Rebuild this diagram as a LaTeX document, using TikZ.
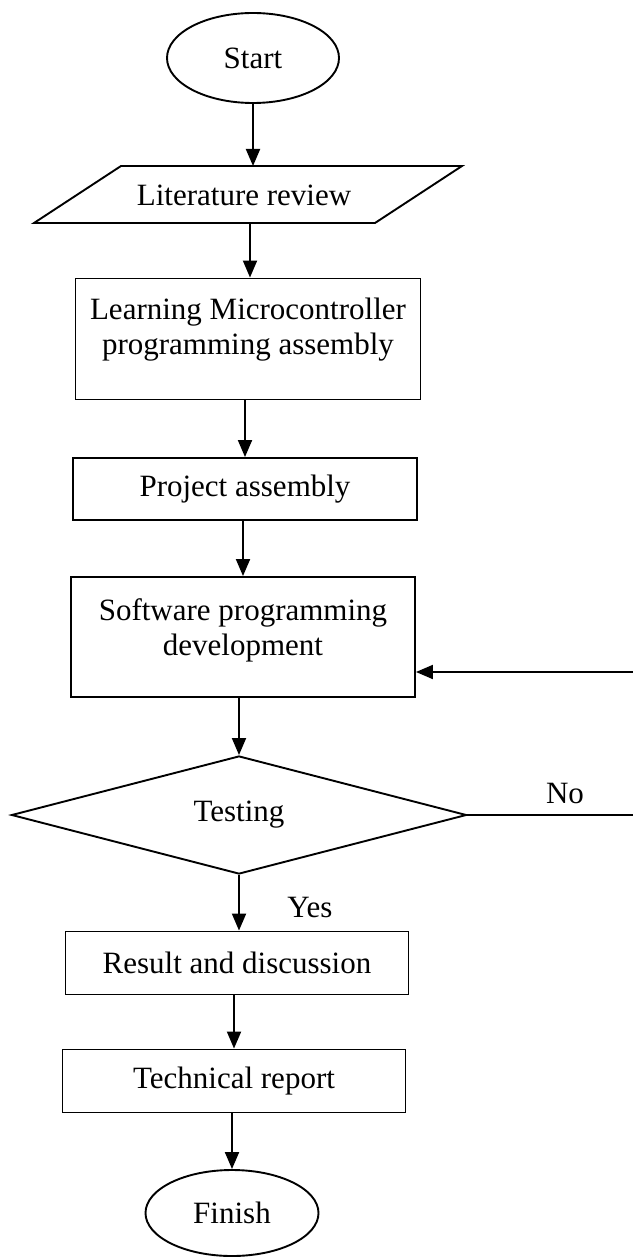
\documentclass[tikz,border=0pt]{standalone}
\usepackage{fontspec}
\setmainfont{Liberation Serif}
\usetikzlibrary{shapes.geometric,arrows.meta}
\tikzset{
  every node/.style={font=\fontsize{31}{35}\selectfont},
  flowline/.style={line width=1.9pt},
  arr/.style={flowline,-{Triangle[length=17pt,width=14pt]}},
  term/.style={draw,ellipse,line width=1.9pt,inner sep=0pt},
  box/.style={draw,rectangle,line width=1.9pt,inner sep=0pt},
  txt/.style={align=center,inner sep=0pt},
  dec/.style={draw,diamond,line width=1.9pt,inner sep=0pt},
}
\begin{document}
\begin{tikzpicture}[x=1pt,y=-1pt]
\useasboundingbox (0,0) rectangle (632,1257);
% Start
\node[term,minimum width=172pt,minimum height=90pt] (start) at (253,58) {Start};
% Literature review (parallelogram)
\node[txt,minimum width=341pt,minimum height=57pt] (lit) at (244,195) {Literature review};
\draw[flowline,line join=miter] (121,166) -- (462,166) -- (375,223) -- (34,223) -- cycle;
% Learning box
\node[box,minimum width=345pt,minimum height=121pt] (lmc) at (248,339) {};
\node[txt] (lmct) at (248,330) {Learning Microcontroller\\programming assembly};
% Project assembly
\node[box,minimum width=344pt,minimum height=62pt] (proj) at (245,489) {Project assembly};
% Software
\node[box,minimum width=344pt,minimum height=120pt] (sw) at (243,637) {};
\node[txt] (swt) at (243,630) {Software programming\\development};
% Testing diamond
\node[dec,minimum width=455pt,minimum height=116pt] (test) at (239,815) {Testing};
% Result
\node[box,minimum width=343pt,minimum height=63pt] (res) at (237,963) {Result and discussion};
% Technical report
\node[box,minimum width=343pt,minimum height=63pt] (tech) at (234,1081) {Technical report};
% Finish
\node[term,minimum width=173pt,minimum height=86pt] (fin) at (232,1213) {Finish};
% labels
\node[txt] (no) at (565,793) {No};
\node[txt] (yes) at (310,907) {Yes};
% connectors
\coordinate (pt) at (253,166);
\coordinate (pb) at (250,223);
\draw[arr] (start.south) -- (pt);
\draw[arr] (pb) -- (pb |- lmc.north);
\draw[arr] (lmc.south -| proj.north) -- (proj.north);
\draw[arr] (proj.south -| sw.north) -- (sw.north);
\draw[arr] (sw.south -| test.north) -- (test.north);
\draw[arr] (test.south) -- (test.south |- res.north);
\draw[arr] (res.south -| tech.north) -- (tech.north);
\draw[arr] (tech.south -| fin.north) -- (fin.north);
\coordinate (fb1) at (637,815);
\coordinate (fb2) at (637,672);
\draw[arr] (test.east) -- (fb1) -- (fb2) -- (fb2 -| sw.east);
\end{tikzpicture}
\end{document}
